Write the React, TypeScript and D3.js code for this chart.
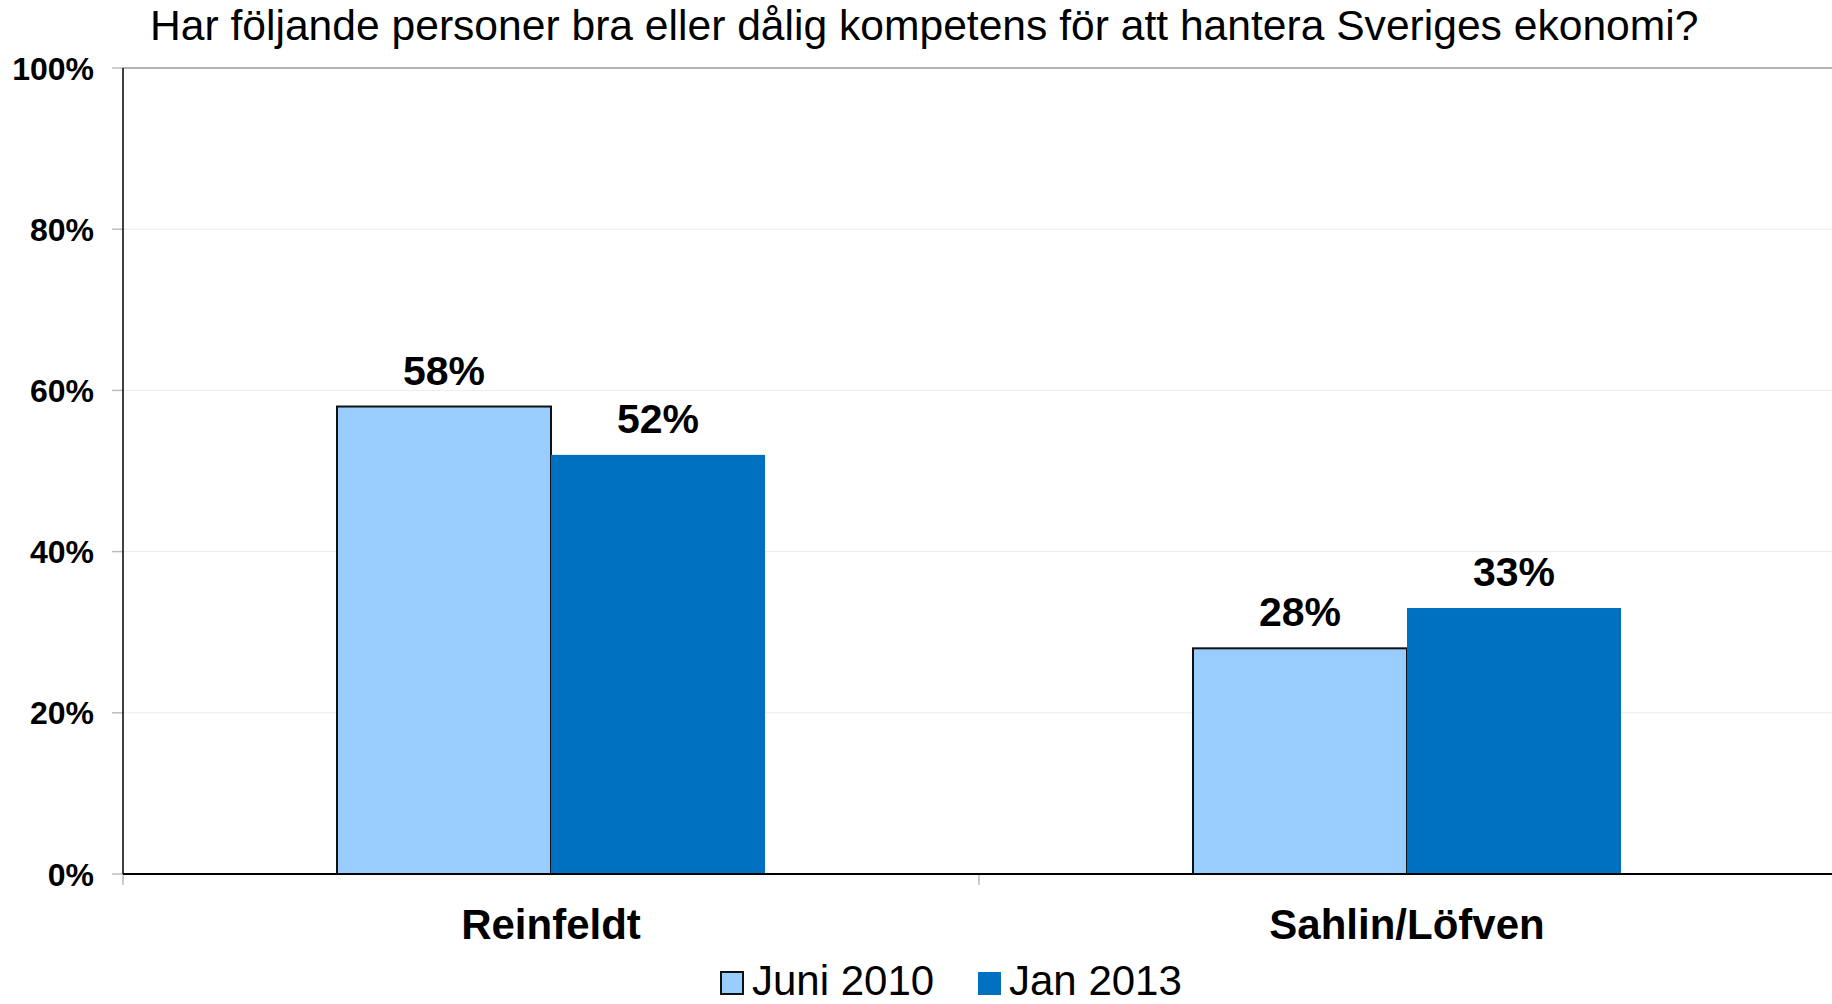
import React from 'react';
import * as d3 from 'd3';

// chart data
const CATEGORIES = ['Reinfeldt', 'Sahlin/Löfven'];
const SERIES = ['Juni 2010', 'Jan 2013'];
const JUNI_2010 = [0.58, 0.28];
const JAN_2013 = [0.52, 0.33];
const Y_TICKS = [0, 0.2, 0.4, 0.6, 0.8, 1];
const TITLE = 'Har följande personer bra eller dålig kompetens för att hantera Sveriges ekonomi?';

const COLORS: Record<string, string> = {
  'Juni 2010': '#99CCFF',
  'Jan 2013': '#0070C0',
};

const W = 1832;
const H = 1004;
const FONT = '"Liberation Sans", Arial, Helvetica, sans-serif';

export default function App() {
  const margin = { top: 68, bottom: 130, left: 123 };
  const plotBottom = H - margin.bottom;
  // the plot area runs a little past the right edge of the picture
  const plotRight = W + 3;

  const x = d3.scaleBand<string>()
    .domain(CATEGORIES)
    .range([margin.left, plotRight])
    .padding(0);

  const bw = x.bandwidth();
  const xInner = d3.scaleBand<string>()
    .domain(SERIES)
    .range([bw / 4, (bw * 3) / 4])
    .padding(0);

  const y = d3.scaleLinear().domain([0, 1]).range([plotBottom, margin.top]);
  const pct = d3.format('.0%');

  const rows = CATEGORIES.map((c, i) => ({
    category: c,
    values: [
      { series: SERIES[0], value: JUNI_2010[i] },
      { series: SERIES[1], value: JAN_2013[i] },
    ],
  }));

  const xTicks = [...CATEGORIES.map(c => x(c) as number), plotRight];

  return (
    <div style={{ position: 'absolute', left: 0, top: 0, width: W, height: H, background: '#fff' }}>
      <svg width={W} height={H} style={{ display: 'block', fontFamily: FONT }}>
        <rect width={W} height={H} fill="#fff" />

        {/* title */}
        <text x={150} y={40} fontSize={42.6} fill="#000">{TITLE}</text>

        {/* gridlines */}
        {Y_TICKS.filter(t => t > 0).map(t => (
          <line
            key={t}
            x1={margin.left}
            x2={W}
            y1={y(t)}
            y2={y(t)}
            stroke={t === 1 ? '#9a9a9a' : '#ececec'}
            strokeWidth={t === 1 ? 1.5 : 1}
          />
        ))}

        {/* y ticks and labels */}
        {Y_TICKS.map(t => (
          <g key={'yt' + t}>
            <line x1={margin.left - 11} x2={margin.left} y1={y(t)} y2={y(t)} stroke="#bdbdbd" strokeWidth={1.5} />
            <text
              x={94}
              y={y(t)}
              dy="0.36em"
              textAnchor="end"
              fontSize={32}
              fontWeight="bold"
              fill="#000"
            >
              {pct(t)}
            </text>
          </g>
        ))}

        {/* x ticks */}
        {xTicks.map((t, i) => (
          <line key={'xt' + i} x1={t} x2={t} y1={plotBottom} y2={plotBottom + 11} stroke="#bdbdbd" strokeWidth={1.5} />
        ))}

        {/* bars */}
        {rows.map(r => (
          <g key={r.category} transform={`translate(${x(r.category)},0)`}>
            {r.values.map(v => (
              <rect
                key={v.series}
                x={xInner(v.series)}
                y={y(v.value)}
                width={xInner.bandwidth()}
                height={plotBottom - y(v.value)}
                fill={COLORS[v.series]}
                stroke={v.series === SERIES[0] ? '#111' : 'none'}
                strokeWidth={2}
              />
            ))}
            {r.values.map(v => (
              <text
                key={'l' + v.series}
                x={(xInner(v.series) as number) + xInner.bandwidth() / 2}
                y={y(v.value) - 22}
                textAnchor="middle"
                fontSize={41}
                fontWeight="bold"
                fill="#000"
              >
                {pct(v.value)}
              </text>
            ))}
          </g>
        ))}

        {/* axes */}
        <line x1={margin.left} x2={margin.left} y1={margin.top} y2={plotBottom} stroke="#000" strokeWidth={1.5} />
        <line x1={margin.left} x2={W} y1={plotBottom} y2={plotBottom} stroke="#000" strokeWidth={2} />

        {/* category labels */}
        {CATEGORIES.map(c => (
          <text
            key={'c' + c}
            x={(x(c) as number) + bw / 2}
            y={939}
            textAnchor="middle"
            fontSize={42}
            fontWeight="bold"
            fill="#000"
          >
            {c}
          </text>
        ))}

        {/* legend */}
        <g transform="translate(720,995)">
          <rect x={1} y={-23} width={22} height={22} fill={COLORS[SERIES[0]]} stroke="#111" strokeWidth={2} />
          <text x={32} y={0} fontSize={42} fill="#000">{SERIES[0]}</text>
          <rect x={258} y={-23} width={23} height={23} fill={COLORS[SERIES[1]]} />
          <text x={289} y={0} fontSize={42} fill="#000">{SERIES[1]}</text>
        </g>
      </svg>
    </div>
  );
}
